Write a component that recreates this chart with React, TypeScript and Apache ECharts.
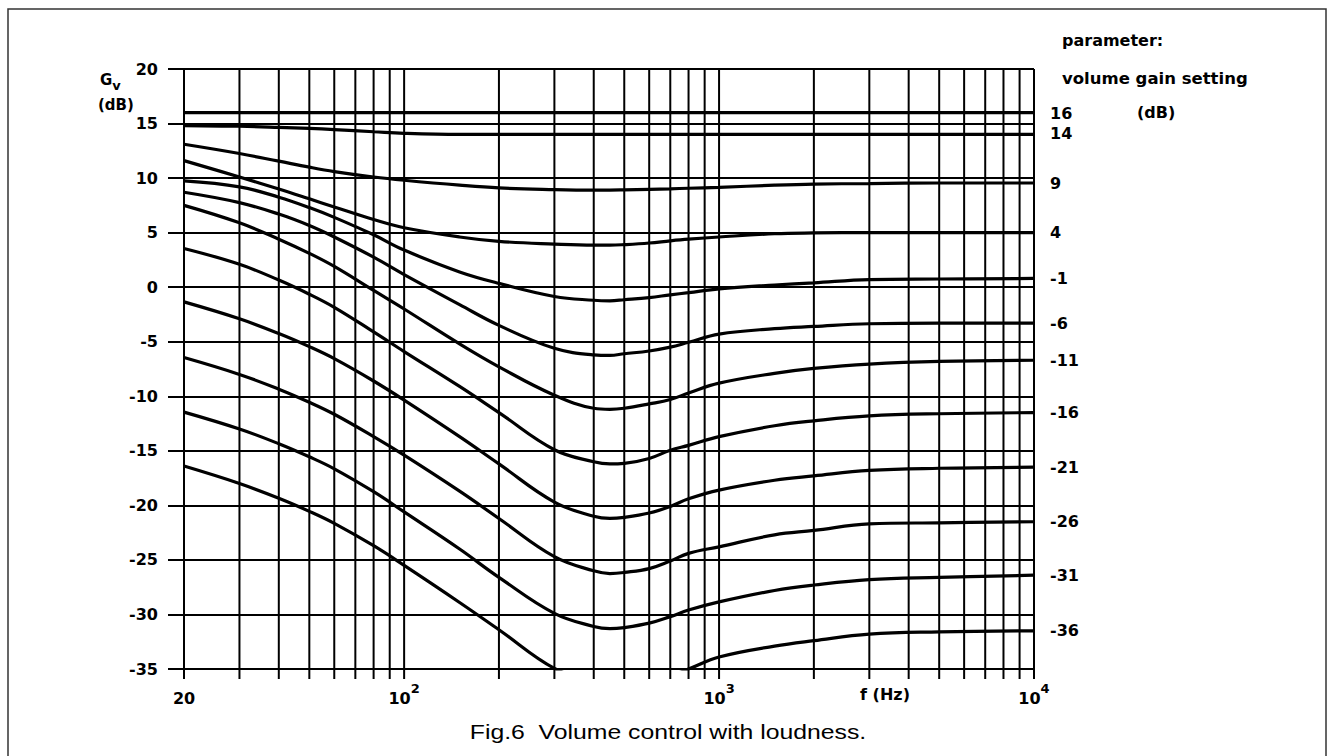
import React, { useEffect, useRef } from "react";
import * as echarts from "echarts";

// frequency sample points (Hz)
const freqs = [20, 30, 40, 50, 60, 80, 100, 150, 200, 300, 400, 450, 500, 600, 700, 800, 1000, 1500, 2000, 3000, 5000, 10000];

// vertical grid lines of the log paper
const gridFreqs = [
  20, 30, 40, 50, 60, 70, 80, 90,
  100, 200, 300, 400, 500, 600, 700, 800, 900,
  1000, 2000, 3000, 4000, 5000, 6000, 7000, 8000, 9000, 10000,
];

// parameter: volume gain setting (dB)
const settings = ["16", "14", "9", "4", "-1", "-6", "-11", "-16", "-21", "-26", "-31", "-36"];

// Gv (dB) for each setting, at freqs
const g16 = [16, 16, 16, 16, 16, 16, 16, 16, 16, 16, 16, 16, 16, 16, 16, 16, 16, 16, 16, 16, 16, 16];
const g14 = [14.8, 14.75, 14.65, 14.55, 14.45, 14.25, 14.1, 14.0, 14.0, 14.0, 14.0, 14.0, 14.0, 14.0, 14.0, 14.0, 14.0, 14.0, 14.0, 14.0, 14.0, 14.0];
const g9 = [13.1, 12.25, 11.55, 11.0, 10.6, 10.1, 9.8, 9.35, 9.1, 8.95, 8.9, 8.9, 8.92, 8.97, 9.02, 9.07, 9.15, 9.35, 9.45, 9.5, 9.55, 9.55];
const g4 = [11.6, 10.1, 9.0, 8.1, 7.35, 6.2, 5.45, 4.6, 4.2, 3.95, 3.85, 3.85, 3.9, 4.05, 4.25, 4.4, 4.6, 4.9, 4.97, 5.0, 5.0, 5.0];
const gm1 = [9.75, 9.2, 8.25, 7.3, 6.4, 4.8, 3.4, 1.4, 0.35, -0.85, -1.2, -1.25, -1.15, -0.95, -0.7, -0.5, -0.15, 0.2, 0.4, 0.7, 0.75, 0.8];
const gm6 = [8.7, 7.75, 6.7, 5.65, 4.6, 2.75, 1.15, -1.6, -3.5, -5.6, -6.2, -6.25, -6.1, -5.85, -5.5, -5.05, -4.3, -3.8, -3.6, -3.35, -3.3, -3.3];
const gm11 = [7.5, 5.9, 4.4, 3.1, 1.9, -0.3, -2.0, -5.2, -7.3, -9.9, -11.1, -11.2, -11.1, -10.7, -10.3, -9.7, -8.8, -7.9, -7.45, -7.05, -6.8, -6.7];
const gm16 = [3.55, 2.1, 0.65, -0.65, -1.85, -4.1, -5.9, -9.1, -11.5, -14.9, -16.0, -16.2, -16.15, -15.7, -14.95, -14.5, -13.7, -12.7, -12.25, -11.8, -11.6, -11.5];
const gm21 = [-1.35, -2.9, -4.25, -5.45, -6.55, -8.6, -10.35, -13.7, -16.2, -19.7, -21.0, -21.2, -21.1, -20.7, -20.1, -19.4, -18.6, -17.7, -17.3, -16.8, -16.6, -16.5];
const gm26 = [-6.45, -8.0, -9.35, -10.55, -11.65, -13.7, -15.4, -18.7, -21.2, -24.7, -26.0, -26.25, -26.15, -25.8, -25.1, -24.4, -23.8, -22.7, -22.3, -21.7, -21.6, -21.5];
const gm31 = [-11.45, -13.0, -14.35, -15.55, -16.65, -18.75, -20.6, -24.0, -26.6, -29.9, -31.1, -31.3, -31.2, -30.8, -30.2, -29.6, -28.85, -27.8, -27.3, -26.8, -26.6, -26.4];
const gm36 = [-16.4, -18.0, -19.35, -20.55, -21.65, -23.7, -25.5, -28.9, -31.4, -34.95, -36.1, -36.3, -36.2, -35.9, -35.6, -35.0, -33.9, -32.9, -32.4, -31.8, -31.6, -31.5];

const curves = [g16, g14, g9, g4, gm1, gm6, gm11, gm16, gm21, gm26, gm31, gm36];

const FONT = "DejaVu Sans";

export default function App() {
  const ref = useRef<HTMLDivElement>(null);

  useEffect(() => {
    if (!ref.current) return;
    const chart = echarts.init(ref.current, null, { renderer: "svg" });

    const lineSeries = curves.map((vals, i) => ({
      type: "line",
      name: settings[i],
      data: freqs.map((f, j) => [f, vals[j]]),
      smooth: 0.4,
      showSymbol: false,
      symbol: "none",
      lineStyle: { color: "#000", width: 3.2 },
      itemStyle: { color: "#000" },
      z: 3,
      endLabel: {
        show: true,
        formatter: settings[i],
        distance: 16,
        color: "#000",
        fontFamily: FONT,
        fontWeight: "bold",
        fontSize: 16,
        lineHeight: 14,
        offset: settings[i] === "16" ? [0, 0.5] : settings[i] === "14" ? [0, -0.5] : [0, 0],
      },
    }));

    const vGrid = {
      type: "custom",
      name: "vgrid",
      silent: true,
      clip: false,
      z: 2,
      encode: { x: 0, y: 1 },
      data: gridFreqs.map((f) => [f, -35]),
      renderItem: (params: any, api: any) => {
        const f = api.value(0);
        const top = api.coord([f, 20]);
        const bot = api.coord([f, -35]);
        return {
          type: "line",
          shape: { x1: top[0], y1: top[1], x2: bot[0], y2: bot[1] + 10 },
          style: { stroke: "#000", lineWidth: 2 },
        };
      },
    };

    chart.setOption({
      animation: false,
      backgroundColor: "#fff",
      grid: { left: 184, right: 295, top: 69, bottom: 87 },
      xAxis: {
        type: "log",
        logBase: 10,
        min: 20,
        max: 10000,
        axisLine: { show: false },
        axisTick: { show: false },
        splitLine: { show: false },
        axisLabel: {
          margin: 13,
          color: "#000",
          formatter: (v: number) => {
            if (v < 50) return "{b|20}";
            const e = Math.round(Math.log10(v));
            return "{b|10}{s|" + e + "}";
          },
          rich: {
            b: { fontFamily: FONT, fontWeight: "bold", fontSize: 16, color: "#000", verticalAlign: "bottom", lineHeight: 24 },
            s: { fontFamily: FONT, fontWeight: "bold", fontSize: 13, color: "#000", verticalAlign: "top", lineHeight: 24 },
          },
        },
      },
      yAxis: {
        type: "value",
        min: -35,
        max: 20,
        interval: 5,
        axisLine: { show: false },
        axisTick: { show: true, length: 16, lineStyle: { color: "#000", width: 2 } },
        splitLine: { show: true, lineStyle: { color: "#000", width: 2 } },
        axisLabel: {
          margin: 26,
          color: "#000",
          fontFamily: FONT,
          fontWeight: "bold",
          fontSize: 16,
        },
      },
      graphic: [
        {
          type: "rect",
          shape: { x: 8, y: 9, width: 1318, height: 760 },
          style: { fill: "none", stroke: "#333", lineWidth: 1.5 },
          silent: true,
        },
        {
          type: "text",
          x: 100,
          y: 82,
          style: {
            text: "{g|G}{v|v}",
            verticalAlign: "middle",
            rich: {
              g: { fontFamily: FONT, fontWeight: "bold", fontSize: 15, fill: "#000", verticalAlign: "top", lineHeight: 20 },
              v: { fontFamily: FONT, fontWeight: "bold", fontSize: 13, fill: "#000", verticalAlign: "bottom", lineHeight: 20 },
            },
          },
        },
        {
          type: "text",
          x: 98,
          y: 105,
          style: { text: "(dB)", fontFamily: FONT, fontWeight: "bold", fontSize: 15, fill: "#000", verticalAlign: "middle" },
        },
        {
          type: "text",
          x: 1062,
          y: 40,
          style: { text: "parameter:", fontFamily: FONT, fontWeight: "bold", fontSize: 16, fill: "#000", verticalAlign: "middle" },
        },
        {
          type: "text",
          x: 1062,
          y: 78,
          style: { text: "volume gain setting", fontFamily: FONT, fontWeight: "bold", fontSize: 16.5, fill: "#000", verticalAlign: "middle" },
        },
        {
          type: "text",
          x: 1137,
          y: 112,
          style: { text: "(dB)", fontFamily: FONT, fontWeight: "bold", fontSize: 16, fill: "#000", verticalAlign: "middle" },
        },
        {
          type: "text",
          x: 885,
          y: 694,
          style: { text: "f (Hz)", fontFamily: FONT, fontWeight: "bold", fontSize: 16, fill: "#000", align: "center", verticalAlign: "middle" },
        },
        {
          type: "text",
          x: 668,
          y: 721,
          scaleX: 1.18,
          style: {
            text: "Fig.6  Volume control with loudness.",
            fontFamily: "Liberation Sans",
            fontSize: 21,
            fill: "#000",
            align: "center",
            verticalAlign: "alphabetic",
          },
        },
      ],
      series: [vGrid, ...lineSeries],
    });

    return () => chart.dispose();
  }, []);

  return (
    <div
      ref={ref}
      style={{ position: "fixed", left: 0, top: 0, width: 1329, height: 756, background: "#fff" }}
    />
  );
}
